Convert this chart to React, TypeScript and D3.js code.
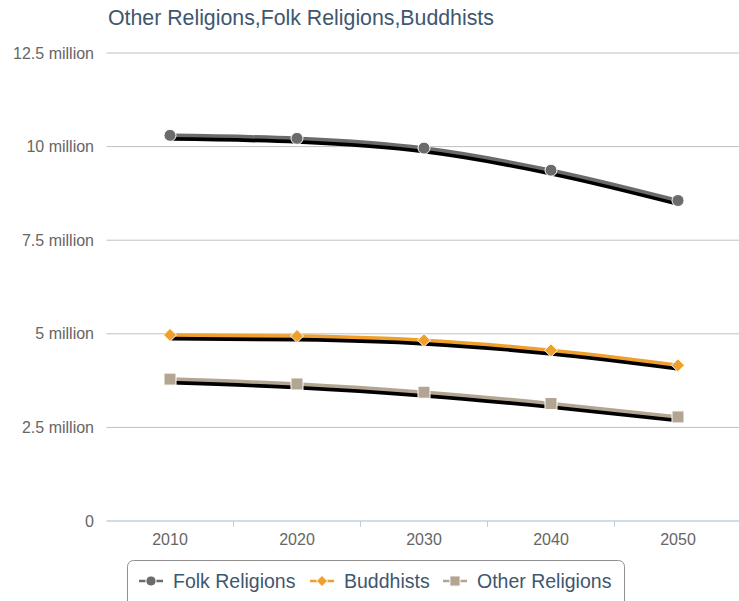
import React from "react";
import * as d3 from "d3";

const categories = ["2010", "2020", "2030", "2040", "2050"];
const folkReligions = [10.3, 10.22, 9.96, 9.37, 8.56];
const buddhists = [4.97, 4.94, 4.83, 4.56, 4.16];
const otherReligions = [3.79, 3.66, 3.44, 3.14, 2.78];
const yTicks = [0, 2.5, 5, 7.5, 10, 12.5];
const yTickLabels = ["0", "2.5 million", "5 million", "7.5 million", "10 million", "12.5 million"];

const seriesNames = ["Folk Religions", "Buddhists", "Other Religions"];
const seriesColors = ["#6b6b6b", "#ee9f2c", "#b2a591"];
const seriesSymbols = ["circle", "diamond", "square"];
const seriesData = [folkReligions, buddhists, otherReligions];

const W = 739;
const H = 601;
const plotLeft = 106.5;
const plotRight = 741.5;
const plotTop = 53;
const plotBottom = 521;

function Marker({ kind, x, y, color, scale = 1 }: { kind: string; x: number; y: number; color: string; scale?: number }) {
  if (kind === "circle") {
    return <circle cx={x} cy={y} r={6 * scale} fill={color} stroke="#fff" strokeWidth={1} />;
  }
  if (kind === "diamond") {
    const r = 6.5 * scale;
    return (
      <path
        d={`M${x},${y - r}L${x + r},${y}L${x},${y + r}L${x - r},${y}Z`}
        fill={color}
        stroke="#fff"
        strokeWidth={1}
      />
    );
  }
  const s = 6 * scale;
  return <rect x={x - s} y={y - s} width={2 * s} height={2 * s} fill={color} stroke="#fff" strokeWidth={1} />;
}

export default function App() {
  const x = d3.scaleBand<string>().domain(categories).range([plotLeft, plotRight]);
  const y = d3.scaleLinear().domain([0, 12.5]).range([plotBottom, plotTop]);
  const cx = (c: string) => (x(c) as number) + x.bandwidth() / 2;
  const line = d3
    .line<number>()
    .x((_, i) => cx(categories[i]))
    .y((d) => y(d))
    .curve(d3.curveMonotoneX);

  const boundaries = categories.slice(1).map((c) => x(c) as number);

  const legendX = [139, 310, 443];

  return (
    <div style={{ position: "absolute", left: 0, top: 0 }}>
      <svg width={W} height={H} style={{ display: "block", fontFamily: "'Liberation Sans', Arial, sans-serif" }}>
        <rect width={W} height={H} fill="#fff" />
        <text x={108} y={24.5} fontSize={21.3} fill="#3e576f">
          Other Religions,Folk Religions,Buddhists
        </text>
        {yTicks.map((t, i) => (
          <g key={t}>
            {t !== 0 && (
              <line x1={plotLeft} x2={W} y1={y(t)} y2={y(t)} stroke="#c0c0c0" strokeWidth={1} />
            )}
            <text x={94} y={y(t) + 5.5} fontSize={16} fill="#666" textAnchor="end">
              {yTickLabels[i]}
            </text>
          </g>
        ))}
        <line x1={plotLeft} x2={W} y1={plotBottom} y2={plotBottom} stroke="#c0d0e0" strokeWidth={1.5} />
        {boundaries.map((b) => (
          <line key={b} x1={b} x2={b} y1={plotBottom} y2={plotBottom + 6} stroke="#c0d0e0" strokeWidth={1} />
        ))}
        {categories.map((c) => (
          <text key={c} x={cx(c)} y={545} fontSize={16} fill="#666" textAnchor="middle">
            {c}
          </text>
        ))}
        {seriesData.map((data, si) => (
          <g key={si}>
            <path d={line(data) || ""} fill="none" stroke="#000" strokeWidth={5} transform="translate(1,3)" strokeLinejoin="round" />
            <path d={line(data) || ""} fill="none" stroke={seriesColors[si]} strokeWidth={3.5} strokeLinejoin="round" />
          </g>
        ))}
        {seriesData.map((data, si) =>
          data.map((v, i) => (
            <Marker key={`${si}-${i}`} kind={seriesSymbols[si]} x={cx(categories[i])} y={y(v)} color={seriesColors[si]} />
          ))
        )}
        <rect x={127.5} y={560.5} width={497} height={50} rx={6} fill="#fff" stroke="#909090" strokeWidth={1} />
        {seriesNames.map((n, i) => {
          const lx = legendX[i];
          return (
            <g key={n}>
              <line x1={lx} x2={lx + 7} y1={581} y2={581} stroke={seriesColors[i]} strokeWidth={2.5} />
              <line x1={lx + 17} x2={lx + 24} y1={581} y2={581} stroke={seriesColors[i]} strokeWidth={2.5} />
              <Marker kind={seriesSymbols[i]} x={lx + 12} y={581} color={seriesColors[i]} scale={0.85} />
              <text x={lx + 34} y={588} fontSize={19.5} fill="#3e576f">
                {n}
              </text>
            </g>
          );
        })}
      </svg>
    </div>
  );
}
